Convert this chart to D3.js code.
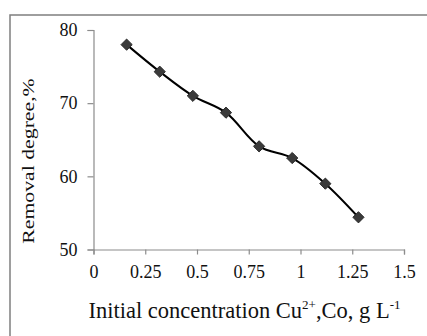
<!DOCTYPE html>
<html><head><meta charset="utf-8">
<script src="https://cdn.jsdelivr.net/npm/d3@7"></script>
<style>body{margin:0;background:#fff}svg{display:block}</style>
</head><body>
<svg id="c" width="427" height="336"></svg>
<script>
const concentration = [0.16, 0.32, 0.48, 0.64, 0.80, 0.96, 1.12, 1.28];
const removal = [78.0, 74.3, 71.0, 68.7, 64.1, 62.5, 59.0, 54.4];
const xTicks = [0, 0.25, 0.5, 0.75, 1, 1.25, 1.5];
const xTickLabels = ["0", "0.25", "0.5", "0.75", "1", "1.25", "1.5"];
const yTicks = [50, 60, 70, 80];
const yTickLabels = ["50", "60", "70", "80"];

const svg = d3.select("#c");
const font = "'Liberation Serif', 'Times New Roman', serif";
const x = d3.scaleLinear().domain([0, 1.5]).range([93.5, 404]);
const y = d3.scaleLinear().domain([50, 80]).range([249.5, 30]);

// outer frame
svg.append("rect").attr("x", 10).attr("y", 15).attr("width", 430).attr("height", 330)
  .attr("fill", "none").attr("stroke", "#7f7f7f").attr("stroke-width", 1.5);

const axColor = "#8c8c8c";
const gx = svg.append("g").attr("transform", `translate(0,${y(50)})`)
  .call(d3.axisBottom(x).tickValues(xTicks).tickFormat((d, i) => xTickLabels[i]).tickSizeOuter(0).tickSize(5).tickPadding(11));
const gy = svg.append("g").attr("transform", `translate(${x(0)},0)`)
  .call(d3.axisLeft(y).tickValues(yTicks).tickFormat((d, i) => yTickLabels[i]).tickSizeOuter(0).tickSize(6).tickPadding(10));
[gx, gy].forEach(g => {
  g.attr("font-family", null).attr("font-size", null);
  g.select(".domain").attr("stroke", axColor).attr("stroke-width", 1.2);
  g.selectAll(".tick line").attr("stroke", axColor).attr("stroke-width", 1.2);
  g.selectAll("text").attr("fill", "#111").style("font-family", font).style("font-size", "18px");
});

// line
const line = d3.line().x((d, i) => x(concentration[i])).y(d => y(d)).curve(d3.curveCatmullRom.alpha(0.5));
svg.append("path").datum(removal).attr("d", line)
  .attr("fill", "none").attr("stroke", "#000").attr("stroke-width", 2);

// markers
svg.selectAll(".m").data(removal).enter().append("path")
  .attr("class", "m")
  .attr("transform", (d, i) => `translate(${x(concentration[i])},${y(d)})`)
  .attr("d", d3.symbol().type(d3.symbolDiamond2).size(80))
  .attr("fill", "#3a3a3a").attr("stroke", "#2a2a2a").attr("stroke-width", 1);

// y title
svg.append("text").attr("transform", "translate(34,161) rotate(-90) scale(1.28,1)")
  .attr("text-anchor", "middle").style("font-family", font).style("font-size", "17px").attr("fill", "#111")
  .text("Removal degree,%");

// x title
const xt = svg.append("text").attr("transform", "translate(244.5,318)")
  .attr("text-anchor", "middle").style("font-family", font).style("font-size", "22.5px").attr("fill", "#111");
xt.append("tspan").text("Initial concentration Cu");
xt.append("tspan").attr("dy", -9).style("font-size", "13px").text("2+");
xt.append("tspan").attr("dy", 9).text(",Co, g L");
xt.append("tspan").attr("dy", -9).style("font-size", "13px").text("-1");
</script>
</body></html>
